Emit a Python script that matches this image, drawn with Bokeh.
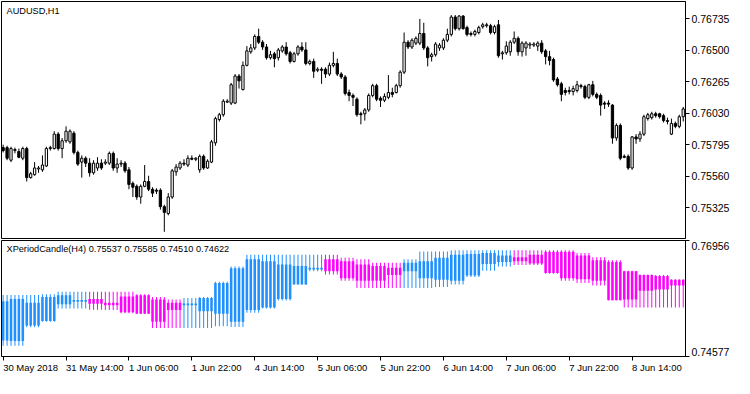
from bokeh.plotting import figure
from bokeh.models import (Range1d, FixedTicker, PrintfTickFormatter, Label,
                          ColumnDataSource, LinearAxis)
from bokeh.core.properties import field
from bokeh.layouts import column
from bokeh.embed import file_html
from bokeh.resources import INLINE

FONT = "Liberation Sans"
FS = 9.5          # px, time scale texts
FS_Y = 10.5       # px, price scale texts
FS_LEG = 9.2      # px, window captions
BLUE = "#1E90FF"
MAGENTA = "#FF00FF"

symbol_title = "AUDUSD,H1"
indicator_title = "XPeriodCandle(H4) 0.75537 0.75585 0.74510 0.74622"

# ---- AUDUSD H1 candles, prices in points (1 point = 0.00001) ----
h1_open = [75773, 75773, 75679, 75751, 75744, 75694, 75766, 75549, 75571, 75614,
           75607, 75636, 75766, 75766, 75874, 75766, 75824, 75816, 75881, 75737,
           75665, 75694, 75657, 75585, 75621, 75657, 75657, 75657, 75730, 75621,
           75650, 75657, 75607, 75506, 75484, 75404, 75484, 75520, 75462, 75455,
           75455, 75332, 75281, 75404, 75592, 75621, 75657, 75643, 75694, 75686,
           75607, 75708, 75621, 75665, 75809, 75983, 76019, 76113, 76106, 76106,
           76308, 76207, 76388, 76489, 76518, 76604, 76561, 76525, 76445, 76474,
           76445, 76496, 76525, 76482, 76417, 76474, 76525, 76503, 76402, 76417,
           76351, 76359, 76359, 76323, 76388, 76402, 76323, 76301, 76185, 76163,
           76135, 76026, 76026, 76055, 76163, 76236, 76142, 76127, 76149, 76185,
           76185, 76236, 76337, 76561, 76525, 76554, 76554, 76626, 76518, 76453,
           76467, 76518, 76518, 76576, 76619, 76749, 76662, 76756, 76670, 76626,
           76619, 76633, 76677, 76684, 76684, 76633, 76691, 76474, 76482, 76489,
           76561, 76590, 76489, 76518, 76539, 76539, 76532, 76554, 76496, 76453,
           76431, 76286, 76250, 76200, 76200, 76192, 76200, 76236, 76229, 76149,
           76243, 76171, 76163, 76106, 76106, 76091, 75845, 75939, 75708, 75708,
           75621, 75853, 75838, 75874, 75990, 75997, 76026, 76026, 76012, 75975,
           75874, 75954, 75932, 76004]
h1_high = [75795, 75787, 75780, 75773, 75766, 75780, 75780, 75592, 75665, 75636,
           75715, 75780, 75787, 75896, 75889, 75845, 75932, 75910, 75896, 75751,
           75715, 75708, 75694, 75679, 75701, 75686, 75686, 75744, 75744, 75694,
           75679, 75672, 75628, 75520, 75498, 75498, 75643, 75563, 75477, 75469,
           75469, 75346, 75433, 75614, 75650, 75672, 75686, 75715, 75715, 75701,
           75722, 75722, 75686, 75831, 76004, 76033, 76135, 76135, 76257, 76323,
           76323, 76417, 76532, 76547, 76619, 76662, 76576, 76547, 76496, 76489,
           76518, 76539, 76561, 76496, 76489, 76539, 76561, 76561, 76431, 76438,
           76373, 76373, 76373, 76409, 76489, 76438, 76337, 76315, 76207, 76178,
           76149, 76041, 76069, 76178, 76250, 76250, 76156, 76178, 76315, 76221,
           76250, 76351, 76633, 76576, 76590, 76604, 76735, 76706, 76532, 76482,
           76561, 76554, 76590, 76662, 76764, 76764, 76764, 76764, 76684, 76641,
           76655, 76684, 76706, 76706, 76698, 76691, 76727, 76496, 76568, 76576,
           76641, 76604, 76568, 76568, 76561, 76561, 76568, 76576, 76510, 76496,
           76445, 76301, 76265, 76221, 76229, 76236, 76272, 76250, 76243, 76250,
           76272, 76185, 76178, 76120, 76127, 76098, 75954, 75954, 75722, 75722,
           75860, 75874, 75896, 76019, 76033, 76041, 76041, 76033, 76026, 75997,
           75990, 75968, 76019, 76077]
h1_low = [75737, 75679, 75665, 75730, 75694, 75679, 75520, 75542, 75563, 75585,
          75592, 75628, 75751, 75759, 75751, 75694, 75809, 75802, 75722, 75636,
          75549, 75628, 75556, 75571, 75600, 75607, 75643, 75643, 75600, 75585,
          75628, 75585, 75462, 75404, 75383, 75354, 75477, 75448, 75404, 75426,
          75310, 75144, 75267, 75390, 75563, 75607, 75636, 75628, 75679, 75672,
          75585, 75607, 75614, 75657, 75787, 75968, 76004, 76106, 76091, 76098,
          76214, 76200, 76380, 76474, 76503, 76547, 76503, 76431, 76431, 76373,
          76424, 76482, 76460, 76402, 76409, 76460, 76489, 76388, 76388, 76294,
          76337, 76250, 76294, 76308, 76373, 76308, 76286, 76163, 76120, 76084,
          76004, 75947, 75975, 76041, 76149, 76120, 76077, 76113, 76135, 76149,
          76178, 76221, 76323, 76510, 76510, 76539, 76539, 76503, 76380, 76417,
          76453, 76496, 76503, 76561, 76604, 76648, 76648, 76655, 76604, 76604,
          76604, 76619, 76662, 76670, 76619, 76619, 76445, 76431, 76467, 76460,
          76547, 76460, 76453, 76460, 76510, 76525, 76496, 76474, 76395, 76388,
          76265, 76229, 76120, 76163, 76171, 76163, 76185, 76214, 76135, 76135,
          76156, 76135, 76012, 76062, 76077, 75802, 75824, 75679, 75694, 75607,
          75607, 75802, 75816, 75860, 75975, 75983, 75997, 75990, 75961, 75947,
          75867, 75918, 75918, 75968]
h1_close = [75751, 75694, 75766, 75759, 75701, 75766, 75549, 75578, 75621, 75621,
            75643, 75766, 75773, 75874, 75766, 75824, 75896, 75896, 75737, 75650,
            75694, 75657, 75585, 75657, 75657, 75621, 75665, 75730, 75621, 75650,
            75657, 75600, 75498, 75477, 75404, 75484, 75520, 75462, 75433, 75448,
            75332, 75289, 75404, 75600, 75628, 75657, 75650, 75694, 75686, 75694,
            75708, 75621, 75672, 75816, 75990, 76019, 76120, 76120, 76243, 76308,
            76272, 76388, 76496, 76518, 76604, 76561, 76525, 76445, 76467, 76438,
            76503, 76525, 76474, 76417, 76474, 76525, 76503, 76402, 76417, 76344,
            76359, 76351, 76323, 76388, 76402, 76323, 76301, 76178, 76163, 76149,
            76019, 76019, 76055, 76163, 76236, 76135, 76127, 76156, 76185, 76171,
            76236, 76337, 76561, 76525, 76576, 76590, 76626, 76518, 76445, 76467,
            76547, 76539, 76576, 76619, 76749, 76662, 76756, 76662, 76619, 76619,
            76641, 76670, 76691, 76691, 76633, 76677, 76460, 76482, 76532, 76561,
            76590, 76489, 76554, 76554, 76547, 76547, 76554, 76489, 76453, 76424,
            76279, 76243, 76171, 76185, 76192, 76214, 76243, 76229, 76149, 76243,
            76171, 76149, 76091, 76098, 76098, 75845, 75939, 75694, 75701, 75621,
            75853, 75838, 75874, 76004, 76019, 76026, 76012, 76004, 75975, 75968,
            75954, 75932, 76004, 76062]

# ---- XPeriodCandle(H4) values, one per H4 period (points) ----
h4_open = [74905, 74893, 75215, 75305, 75647, 75698, 75756, 75679, 75808, 75834,
           75744, 75679, 75628, 75505, 75453, 75292, 75531, 75582, 75756, 76053,
           76363, 76569, 76530, 76466, 76433, 76395, 76324, 76182, 76150, 76130,
           76240, 76472, 76517, 76614, 76666, 76724, 76724, 76646, 76549, 76517,
           76324, 76246, 76227, 76150]
h4_high = [75840, 75840, 75840, 75853, 75905, 75905, 75905, 75905, 75905, 75853,
           75795, 75744, 75776, 75795, 76111, 76421, 76666, 76666, 76666, 76666,
           76666, 76666, 76601, 76569, 76498, 76498, 76569, 76730, 76730, 76756,
           76756, 76756, 76756, 76756, 76756, 76756, 76756, 76698, 76614, 76549,
           76337, 76259, 76246, 76163]
h4_low = [74796, 74796, 75176, 75292, 75563, 75563, 75537, 75531, 75466, 75453,
          75163, 75163, 75163, 75163, 75196, 75183, 75473, 75563, 75724, 76053,
          76324, 76259, 76130, 75982, 75982, 75982, 75982, 75982, 76001, 76053,
          76208, 76337, 76421, 76453, 76453, 76272, 76130, 76085, 76034, 75731,
          75582, 75582, 75582, 75582]
h4_close = [75711, 75756, 75679, 75795, 75834, 75737, 75660, 75628, 75486, 75453,
            75292, 75531, 75666, 75776, 76085, 76388, 76569, 76530, 76466, 76433,
            76395, 76324, 76182, 76130, 76130, 76246, 76498, 76530, 76601, 76666,
            76678, 76698, 76646, 76530, 76485, 76292, 76182, 76163, 76130, 75731,
            75744, 75924, 75950, 76034]
# number of H1 bars covered by each H4 period
h4_size = [2] + [4] * 43

x_tick_bars = [0, 16, 32, 48, 64, 80, 96, 112, 128, 144, 160]
x_tick_labels = ["30 May 2018", "31 May 14:00", "1 Jun 06:00", "1 Jun 22:00",
                 "4 Jun 14:00", "5 Jun 06:00", "5 Jun 22:00", "6 Jun 14:00",
                 "7 Jun 06:00", "7 Jun 22:00", "8 Jun 14:00"]
price_ticks = [0.75325, 0.75560, 0.75795, 0.76030, 0.76265, 0.76500, 0.76735]
ind_ticks = [0.74577, 0.76956]

# ---------------------------------------------------------------------------
PT = 1e-5
n = len(h1_open)
idx = list(range(n))
o = [v * PT for v in h1_open]
h = [v * PT for v in h1_high]
l = [v * PT for v in h1_low]
c = [v * PT for v in h1_close]

src1 = ColumnDataSource(dict(
    x=idx, high=h, low=l,
    top=[max(a, b) for a, b in zip(o, c)],
    bottom=[min(a, b) for a, b in zip(o, c)],
    fill=["white" if cc > oo else "black" for oo, cc in zip(o, c)],
))

eo, eh, el, ec = [], [], [], []
for k, size in enumerate(h4_size):
    eo += [h4_open[k] * PT] * size
    eh += [h4_high[k] * PT] * size
    el += [h4_low[k] * PT] * size
    ec += [h4_close[k] * PT] * size
src2 = ColumnDataSource(dict(
    x=idx, high=eh, low=el,
    top=[max(a, b) for a, b in zip(eo, ec)],
    bottom=[min(a, b) for a, b in zip(eo, ec)],
    col=[BLUE if cc >= oo else MAGENTA for oo, cc in zip(eo, ec)],
))

FRAME_W, TOP_H, BOT_H = 684, 237, 116
X_START, X_END = -0.42, 173.58
PPB = FRAME_W / (X_END - X_START)          # pixels per bar
xr = Range1d(X_START, X_END)
common = dict(output_backend="svg", toolbar_location=None, frame_width=FRAME_W,
              x_range=xr, y_axis_location="right", min_border_left=1,
              min_border_right=49, background_fill_color="white",
              border_fill_color="white", outline_line_color="black",
              outline_line_width=1)

TOP_LO, TOP_HI = 0.75094, 0.76865
p1 = figure(frame_height=TOP_H, x_axis_location=None,
            y_range=Range1d(TOP_LO, TOP_HI), min_border_top=1,
            min_border_bottom=1, **common)
IND_LO, IND_HI = ind_ticks
p2 = figure(frame_height=BOT_H, y_range=Range1d(IND_LO, IND_HI),
            min_border_top=1, min_border_bottom=22, **common)


def style_axis(ax, tick_out, standoff, size, show_line=True):
    ax.axis_line_color = "black" if show_line else None
    ax.major_tick_line_color = "black" if tick_out else None
    ax.major_tick_out = tick_out
    ax.major_tick_in = 0
    ax.minor_tick_out = 0
    ax.minor_tick_in = 0
    ax.major_label_standoff = standoff
    ax.major_label_text_font = FONT
    ax.major_label_text_font_size = "%gpx" % size
    ax.major_label_text_color = "black"


for p in (p1, p2):
    p.xgrid.visible = False
    p.ygrid.visible = False

# top price scale
style_axis(p1.yaxis[0], 4, 2, FS_Y)
p1.yaxis[0].ticker = FixedTicker(ticks=price_ticks, minor_ticks=[])
p1.yaxis[0].formatter = PrintfTickFormatter(format="%.5f")

# indicator scale: tick marks at the window limits, labels kept inside them
style_axis(p2.yaxis[0], 4, 0, FS_Y)
p2.yaxis[0].ticker = FixedTicker(ticks=ind_ticks, minor_ticks=[])
p2.yaxis[0].major_label_overrides = {t: "" for t in ind_ticks}
p2.yaxis[0].major_label_text_font_size = "0px"
dy = 5.0 * (IND_HI - IND_LO) / BOT_H
ind_label_pos = [round(IND_LO + dy, 6), round(IND_HI - dy, 6)]
ind_lab_axis = LinearAxis(ticker=FixedTicker(ticks=ind_label_pos, minor_ticks=[]))
style_axis(ind_lab_axis, 0, 2, FS_Y, show_line=False)
ind_lab_axis.major_label_overrides = {pos: "%.5f" % t
                                      for pos, t in zip(ind_label_pos, ind_ticks)}
p2.add_layout(ind_lab_axis, "right")

# time scale: tick marks at the bars, labels starting at the tick (left aligned)
xa = p2.xaxis[0]
style_axis(xa, 4, 0, FS)
xa.ticker = FixedTicker(ticks=x_tick_bars, minor_ticks=[])
xa.major_label_overrides = {t: "" for t in x_tick_bars}
xa.major_label_text_font_size = "0px"

# Arial / Liberation Sans advance widths (em)
CW = {d: 0.556 for d in "0123456789"}
CW.update({" ": 0.278, ":": 0.278, ".": 0.278, "M": 0.833, "a": 0.556,
           "y": 0.5, "J": 0.5, "u": 0.556, "n": 0.556})


def text_w(s, size):
    return sum(CW.get(ch, 0.556) for ch in s) * size


x_label_pos = [round(t + (text_w(s, FS) / 2) / PPB, 4)
               for t, s in zip(x_tick_bars, x_tick_labels)]
x_lab_axis = LinearAxis(ticker=FixedTicker(ticks=x_label_pos, minor_ticks=[]))
style_axis(x_lab_axis, 0, 1, FS, show_line=False)
x_lab_axis.major_label_overrides = dict(zip(x_label_pos, x_tick_labels))
p2.add_layout(x_lab_axis, "below")

# candles
p1.segment(x0="x", y0="low", x1="x", y1="high", source=src1,
           line_color="black", line_width=1)
p1.vbar(x="x", top="top", bottom="bottom", width=0.58, source=src1,
        fill_color="fill", line_color="black", line_width=1)

# indicator: thin full-range stick plus filled body for every H1 bar
p2.vbar(x="x", top="high", bottom="low", width=1.0 / PPB, source=src2,
        fill_color=field("col"), line_color=None)
p2.vbar(x="x", top="top", bottom="bottom", width=0.65, source=src2,
        fill_color=field("col"), line_color=None)

lab_style = dict(text_font=FONT, text_font_size="%gpx" % FS_LEG,
                 text_color="black", text_baseline="middle", text_align="left")
p1.add_layout(Label(x=X_START, y=TOP_HI, x_offset=5, y_offset=-9,
                    text=symbol_title, **lab_style))
p2.add_layout(Label(x=X_START, y=IND_HI, x_offset=5, y_offset=-8.5,
                    text=indicator_title, **lab_style))

layout = column(p1, p2, spacing=0)
open("out.html", "w").write(file_html(layout, INLINE))
